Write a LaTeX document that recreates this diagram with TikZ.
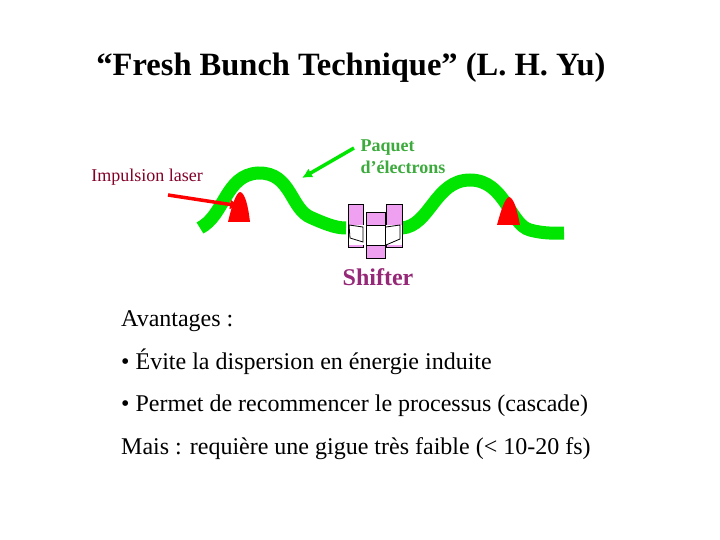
\documentclass[tikz,border=0pt]{standalone}
\usepackage{fontspec}
\setmainfont{Liberation Serif}
\usetikzlibrary{arrows.meta}
\definecolor{beamgreen}{RGB}{0,230,0}
\definecolor{labgreen}{RGB}{60,170,60}
\definecolor{impred}{RGB}{130,0,40}
\definecolor{shiftc}{RGB}{150,40,120}
\definecolor{pinkc}{RGB}{240,160,240}
\begin{document}
\begin{tikzpicture}[x=1pt,y=-1pt,
  body/.style={anchor=west,font=\fontsize{24}{28}\selectfont,inner sep=0},
  pink/.style={draw=black,fill=pinkc,line width=0.8pt},
  beam/.style={draw=beamgreen,line width=13pt,line cap=butt}]
\useasboundingbox (0,0) rectangle (720,540);
\node (title) at (351,68) {\fontsize{32.5}{36}\selectfont\bfseries “Fresh Bunch Technique” (L. H. Yu)};
% beam
\draw[beam] (200,228) .. controls (225,215) and (225,175) .. (258,173)
  .. controls (292,172) and (290,210) .. (312,218) .. controls (330,226) and (338,228) .. (346,228);
\draw[beam] (402,228) .. controls (430,226) and (435,180) .. (470,180)
  .. controls (505,180) and (510,225) .. (530,230) .. controls (545,234) and (555,233) .. (564,233);
% red bunches
\fill[red] (228,222) .. controls (232,205) and (236,193) .. (240,192) .. controls (245,193) and (248,205) .. (250,222) -- cycle;
\fill[red] (497,225) .. controls (501,210) and (505,198) .. (509,197) .. controls (514,198) and (517,210) .. (520,225) -- cycle;
% shifter
\node[pink,minimum width=15pt,minimum height=43pt,inner sep=0] (s1) at (355.5,225.5) {};
\node[pink,minimum width=19pt,minimum height=46pt,inner sep=0] (s2) at (375.5,235) {};
\node[pink,minimum width=16pt,minimum height=43pt,inner sep=0] (s3) at (394,225.5) {};
\fill[white] (349,225) rectangle (402,245);
\draw[line width=0.8pt] (349,225) -- (363,227) -- (363,242) -- (350,238) -- cycle;
\draw[line width=0.8pt] (386,227) -- (400,225) -- (400,239) -- (386,245);
\draw[line width=0.8pt] (366,225) rectangle (385,245);
\node[text=shiftc,font=\fontsize{24}{28}\selectfont\bfseries] (shift) at (378,277) {Shifter};
% labels
\node[text=impred,font=\fontsize{18}{21}\selectfont] (imp) at (147,177) {Impulsion laser};
\coordinate (impend) at (240,206);
\draw[red,line width=3.5pt,-{Latex[length=10pt,width=10pt]}] (168,195) -- (impend);
\node[text=labgreen,font=\fontsize{18}{22}\selectfont\bfseries,align=left] (paq) at (403,157) {Paquet\\d’électrons};
\coordinate (paqend) at (302,178);
\draw[beamgreen,line width=3.5pt,-{Latex[length=10pt,width=10pt]}] (354,148) -- (paqend);
% text
\node[body] (t1) at (121,321) {Avantages :};
\node[body] (t2) at (121,362) {• Évite la dispersion en énergie induite};
\node[body] (t3) at (121,406) {• Permet de recommencer le processus (cascade)};
\node[body] (t4) at (121,449) {Mais : requière une gigue très faible (< 10-20 fs)};
\end{tikzpicture}
\end{document}
